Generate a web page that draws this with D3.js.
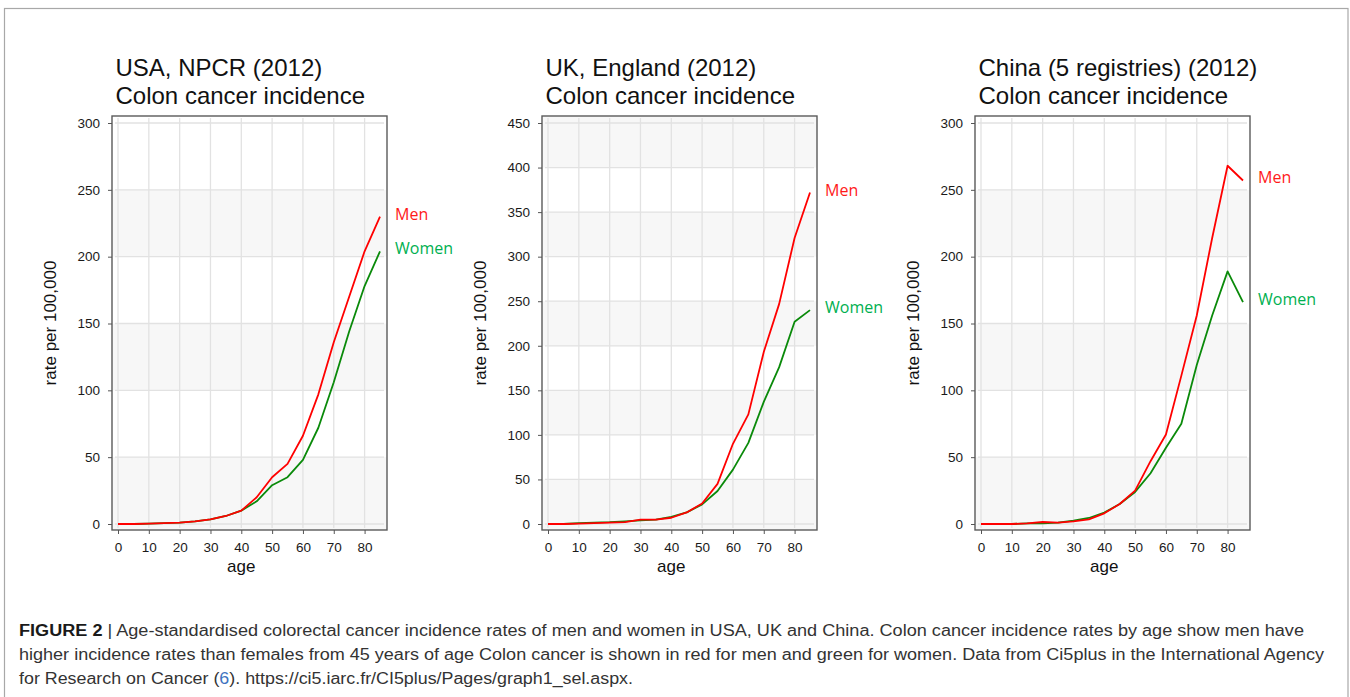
<!DOCTYPE html>
<html>
<head>
<meta charset="utf-8">
<script src="https://cdn.jsdelivr.net/npm/d3@7"></script>
<style>
  html, body { margin: 0; padding: 0; background: #fff; }
  svg { display: block; }
</style>
</head>
<body>
<svg id="chart" width="1350" height="697"></svg>
<script>
// ---------- DATA ----------
const ages = [0, 5, 10, 15, 20, 25, 30, 35, 40, 45, 50, 55, 60, 65, 70, 75, 80, 85];
const xTicks = [0, 10, 20, 30, 40, 50, 60, 70, 80];

const usaMen   = [0, 0, 0.3, 0.6, 1, 2, 3.5, 6, 10, 20, 35, 45, 66, 97, 136, 170, 204, 230];
const usaWomen = [0, 0, 0.3, 0.6, 1, 2, 3.5, 6, 10, 17, 29, 35, 48, 72, 106, 144, 178, 204];
const ukMen    = [0, 0, 0.5, 1, 1.5, 2, 5, 5, 7, 13, 23, 45, 90, 123, 193, 247, 321, 372];
const ukWomen  = [0, 0, 1, 1.5, 2, 3, 4, 5, 8, 13, 22, 37, 61, 91, 137, 176, 227, 240];
const chinaMen   = [0, 0, 0, 0.5, 1.5, 1, 2, 3.5, 8, 15, 25, 47, 67, 111, 156, 214, 268, 257];
const chinaWomen = [0, 0, 0, 0.5, 0.5, 1, 2.5, 4.5, 8.5, 15, 24, 38, 57, 75, 119, 156, 189, 166];

const yTicks300 = [0, 50, 100, 150, 200, 250, 300];
const yTicks450 = [0, 50, 100, 150, 200, 250, 300, 350, 400, 450];

const titlesLine1 = ["USA, NPCR (2012)", "UK, England (2012)", "China (5 registries) (2012)"];
const titleLine2 = "Colon cancer incidence";
const seriesNames = ["Men", "Women"];
const xLabel = "age";
const yLabel = "rate per 100,000";

const captionBold = "FIGURE 2";
const captionLine1 = " | Age-standardised colorectal cancer incidence rates of men and women in USA, UK and China. Colon cancer incidence rates by age show men have";
const captionLine2 = "higher incidence rates than females from 45 years of age Colon cancer is shown in red for men and green for women. Data from Ci5plus in the International Agency";
const captionLine3a = "for Research on Cancer (";
const captionRef = "6";
const captionLine3b = "). https://ci5.iarc.fr/CI5plus/Pages/graph1_sel.aspx.";

// ---------- LAYOUT ----------
const panels = [
  { left: 112, title: titlesLine1[0], men: usaMen, women: usaWomen, ticks: yTicks300 },
  { left: 542, title: titlesLine1[1], men: ukMen, women: ukWomen, ticks: yTicks450 },
  { left: 975, title: titlesLine1[2], men: chinaMen, women: chinaWomen, ticks: yTicks300 }
];

const frameTop = 116, frameBottom = 530, frameW = 275;
const y0px = 524, yTopPx = 123;
const menLine = "#ff0000", womenLine = "#0a8a0a";
const menLabel = "#ff1a1a", womenLabel = "#00b050";
const band = "#f7f7f7", grid = "#e2e2e2";

const svg = d3.select("#chart");

// Figure border
svg.append("rect")
  .attr("x", 4.5).attr("y", 8.5)
  .attr("width", 1343.5).attr("height", 720)
  .attr("fill", "none").attr("stroke", "#a8a8a8").attr("stroke-width", 1.2);

panels.forEach(p => {
  const L = p.left, R = L + frameW;
  const ymax = p.ticks[p.ticks.length - 1];
  const x = d3.scaleLinear().domain([0, 85]).range([L + 6, L + 6 + 262]);
  const y = d3.scaleLinear().domain([0, ymax]).range([y0px, yTopPx]);
  const g = svg.append("g");

  // alternating bands (gray for 0-50, 100-150, ...)
  for (let i = 0; i < p.ticks.length - 1; i++) {
    if (i % 2 === 0) {
      const top = (i === p.ticks.length - 2) ? frameTop : y(p.ticks[i + 1]);
      const bot = (i === 0) ? frameBottom : y(p.ticks[i]);
      g.append("rect").attr("x", L).attr("y", top)
        .attr("width", frameW).attr("height", bot - top).attr("fill", band);
    }
  }
  // grid lines
  g.selectAll(".hg").data(p.ticks).join("line")
    .attr("x1", L + 3).attr("x2", R - 3)
    .attr("y1", d => y(d)).attr("y2", d => y(d))
    .attr("stroke", grid).attr("stroke-width", 1.3);
  g.selectAll(".vg").data(xTicks).join("line")
    .attr("x1", d => x(d)).attr("x2", d => x(d))
    .attr("y1", frameTop + 2).attr("y2", frameBottom - 2)
    .attr("stroke", grid).attr("stroke-width", 1.3);

  // lines
  const line = vals => d3.line().x((d, i) => x(ages[i])).y(d => y(d))(vals);
  g.append("path").attr("d", line(p.women)).attr("fill", "none")
    .attr("stroke", womenLine).attr("stroke-width", 1.8).attr("stroke-linejoin", "round");
  g.append("path").attr("d", line(p.men)).attr("fill", "none")
    .attr("stroke", menLine).attr("stroke-width", 1.8).attr("stroke-linejoin", "round");

  // frame
  g.append("rect").attr("x", L).attr("y", frameTop)
    .attr("width", frameW).attr("height", frameBottom - frameTop)
    .attr("fill", "none").attr("stroke", "#5a5a5a").attr("stroke-width", 1.4);

  // axes
  const yAxis = d3.axisLeft(y).tickValues(p.ticks).tickSize(4).tickPadding(8);
  const ya = g.append("g").attr("transform", `translate(${L},0)`).call(yAxis);
  const xAxis = d3.axisBottom(x).tickValues(xTicks).tickSize(4).tickPadding(8);
  const xa = g.append("g").attr("transform", `translate(0,${frameBottom})`).call(xAxis);
  [ya, xa].forEach(a => {
    a.select(".domain").remove();
    a.selectAll(".tick line").attr("stroke", "#555");
    a.selectAll("text").attr("font-family", "Liberation Sans, Arial, sans-serif")
      .attr("font-size", 13.5).attr("fill", "#1a1a1a");
  });

  // axis titles
  g.append("text").attr("x", x(40)).attr("y", 572)
    .attr("text-anchor", "middle").attr("font-family", "Liberation Sans, Arial, sans-serif")
    .attr("font-size", 17).attr("fill", "#111").text(xLabel);
  g.append("text")
    .attr("transform", `translate(${L - 56},${(frameTop + frameBottom) / 2}) rotate(-90)`)
    .attr("text-anchor", "middle").attr("font-family", "Liberation Sans, Arial, sans-serif")
    .attr("font-size", 17).attr("fill", "#111").text(yLabel);

  // titles
  g.append("text").attr("x", L + 3.5).attr("y", 76)
    .attr("font-family", "Liberation Sans, Arial, sans-serif").attr("font-size", 24)
    .attr("fill", "#111").text(p.title);
  g.append("text").attr("x", L + 3.5).attr("y", 103.5)
    .attr("font-family", "Liberation Sans, Arial, sans-serif").attr("font-size", 24)
    .attr("fill", "#111").text(titleLine2);

  // series labels
  [[p.men, menLabel, seriesNames[0]], [p.women, womenLabel, seriesNames[1]]].forEach(([vals, col, name]) => {
    g.append("text").attr("x", R + 8).attr("y", y(vals[vals.length - 1]) - 3)
      .attr("dominant-baseline", "central")
      .attr("font-family", "Open Sans, sans-serif").attr("font-size", 16)
      .attr("fill", col).text(name);
  });
});

// ---------- CAPTION ----------
const capFont = "Liberation Sans, Arial, sans-serif";
const c1 = svg.append("text").attr("x", 19).attr("y", 636)
  .attr("font-family", capFont).attr("font-size", 16).attr("fill", "#333")
  .attr("textLength", 1285).attr("lengthAdjust", "spacingAndGlyphs");
c1.append("tspan").attr("font-weight", "bold").attr("fill", "#1a1a1a").text(captionBold);
c1.append("tspan").text(captionLine1);

svg.append("text").attr("x", 19).attr("y", 660)
  .attr("font-family", capFont).attr("font-size", 16).attr("fill", "#333")
  .attr("textLength", 1305).attr("lengthAdjust", "spacingAndGlyphs")
  .text(captionLine2);

const c3 = svg.append("text").attr("x", 19).attr("y", 684)
  .attr("font-family", capFont).attr("font-size", 16).attr("fill", "#333")
  .attr("textLength", 614).attr("lengthAdjust", "spacingAndGlyphs");
c3.append("tspan").text(captionLine3a);
c3.append("tspan").attr("fill", "#3f74c0").text(captionRef);
c3.append("tspan").text(captionLine3b);
</script>
</body>
</html>
